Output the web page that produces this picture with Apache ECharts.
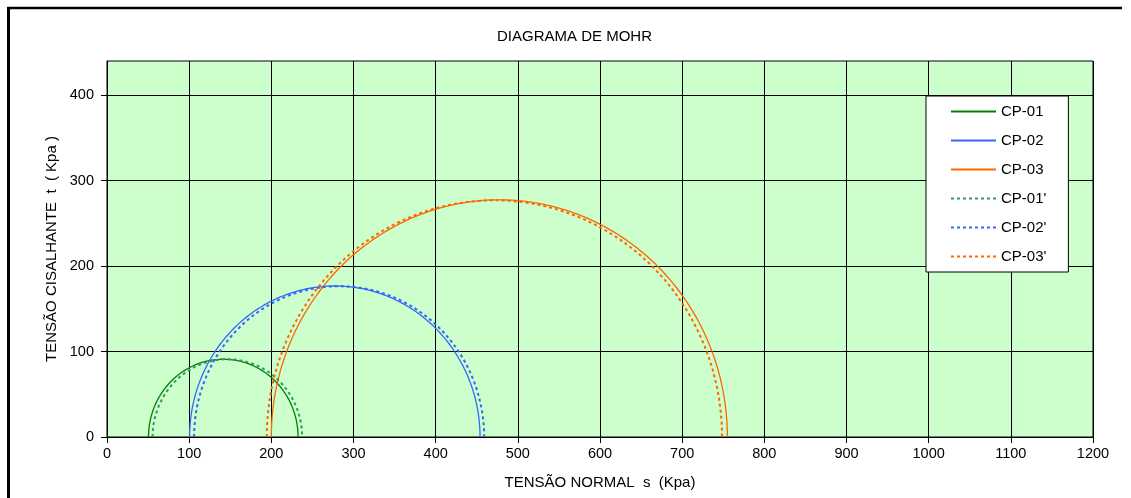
<!DOCTYPE html>
<html><head><meta charset="utf-8">
<script src="https://cdn.jsdelivr.net/npm/echarts@6/dist/echarts.min.js"></script>
<style>html,body{margin:0;padding:0;background:#fff}#c{width:1131px;height:498px}</style>
</head><body><div id="c"></div>
<script>
// Mohr circles: principal stresses (kPa)
const names  = ['CP-01', 'CP-02', 'CP-03', "CP-01'", "CP-02'", "CP-03'"];
const sigma3 = [50.5, 100.5, 200, 55.5, 106, 194.5];
const sigma1 = [232.5, 454, 755, 237.5, 459, 748.5];
const xTicks = [0,100,200,300,400,500,600,700,800,900,1000,1100,1200];
const yTicks = [0,100,200,300,400];

const colors = ['#008000', '#3366ff', '#ff6600', '#339966', '#3366ff', '#ff6600'];
const dotted = [false, false, false, true, true, true];
const FONT = '"Liberation Sans", Arial, sans-serif';

// semicircle of each Mohr circle (library-needed table built from sigma3/sigma1)
function mohr(s3, s1) {
  const c = (s1 + s3) / 2, r = (s1 - s3) / 2, pts = [];
  for (let i = 0; i <= 360; i++) {
    const a = Math.PI - Math.PI * i / 360;
    pts.push([c + r * Math.cos(a), r * Math.sin(a)]);
  }
  return pts;
}

const series = names.map((n, i) => ({
  name: n, type: 'line', symbol: 'none', smooth: false,
  data: mohr(sigma3[i], sigma1[i]),
  lineStyle: { color: colors[i], width: dotted[i] ? 2 : 1.3, type: dotted[i] ? [3, 3] : 'solid' },
  itemStyle: { color: colors[i] },
  animation: false
}));

const chart = echarts.init(document.getElementById('c'));
chart.setOption({
  animation: false,
  textStyle: { fontFamily: FONT },
  title: {
    text: 'DIAGRAMA DE MOHR', left: 497, top: 29, padding: 0,
    textStyle: { fontFamily: FONT, fontSize: 15, fontWeight: 'normal', color: '#000' }
  },
  grid: {
    left: 107, right: 38, top: 61, bottom: 61, show: true,
    backgroundColor: '#ccffcc', borderColor: '#000', borderWidth: 1
  },
  legend: {
    orient: 'vertical', left: 926, top: 96,
    backgroundColor: '#fff', borderColor: '#000', borderWidth: 1,
    padding: [8, 22, 8, 24], itemGap: 14, itemWidth: 45, itemHeight: 14,
    itemStyle: { opacity: 0, borderWidth: 0 },
    textStyle: { fontFamily: FONT, fontSize: 15, color: '#000', lineHeight: 14 },
    data: names
  },
  xAxis: {
    type: 'value', min: 0, max: 1200, interval: 100,
    name: 'TENSÃO NORMAL  s  (Kpa)', nameLocation: 'middle', nameGap: 38,
    nameTextStyle: { fontFamily: FONT, fontSize: 15, color: '#000' },
    axisLine: { show: true, lineStyle: { color: '#000', width: 1 } },
    axisTick: { show: true, length: 6, lineStyle: { color: '#000' }, customValues: xTicks },
    axisLabel: { fontFamily: FONT, fontSize: 14.5, color: '#000', margin: 9, customValues: xTicks,
                 formatter: v => String(v) },
    splitLine: { show: true, lineStyle: { color: '#000', width: 1 } }
  },
  yAxis: {
    type: 'value', min: 0, max: 440, interval: 100,
    name: 'TENSÃO CISALHANTE  t  ( Kpa )', nameLocation: 'middle', nameGap: 48, nameRotate: 90,
    nameTextStyle: { fontFamily: FONT, fontSize: 15, color: '#000' },
    axisLine: { show: true, lineStyle: { color: '#000', width: 1 } },
    axisTick: { show: true, length: 6, lineStyle: { color: '#000' }, customValues: yTicks },
    axisLabel: { fontFamily: FONT, fontSize: 14.5, color: '#000', margin: 13, customValues: yTicks,
                 formatter: v => String(v) },
    splitLine: { show: true, lineStyle: { color: '#000', width: 1 } }
  },
  graphic: [
    { type: 'line', shape: { x1: 7, y1: 8, x2: 1122, y2: 8 }, style: { stroke: '#000', lineWidth: 2.5 } },
    { type: 'line', shape: { x1: 8.5, y1: 7, x2: 8.5, y2: 498 }, style: { stroke: '#000', lineWidth: 3 } }
  ],
  series: series
});
</script></body></html>
